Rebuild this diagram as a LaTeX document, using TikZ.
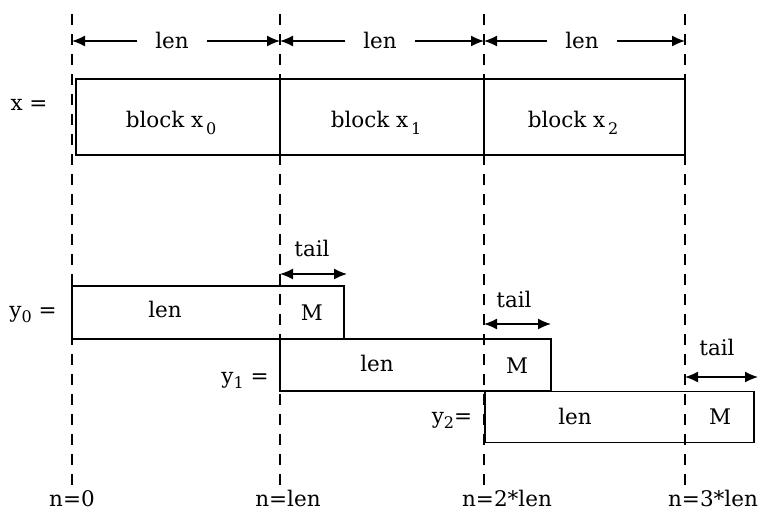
\documentclass[tikz,border=0pt]{standalone}
\usepackage{fontspec}
\setmainfont{DejaVu Serif}
\usetikzlibrary{arrows.meta}
\newcommand{\sbs}[1]{\raisebox{-7pt}{\fontsize{16}{16}\selectfont\,#1}}
\newcommand{\sbl}[1]{\raisebox{-5pt}{\fontsize{16}{16}\selectfont #1}}
\begin{document}
\begin{tikzpicture}[x=1pt,y=-1pt,
 txt/.style={font=\fontsize{21.5}{26}\selectfont, inner sep=0pt, anchor=base},
 guide/.style={line width=1.6pt, dash pattern=on 11pt off 9pt},
 blk/.style={draw, line width=1.5pt, inner sep=0pt},
 dimtip/.style={line width=1.4pt, -{Latex[length=13pt,width=11pt]}},
 dimboth/.style={line width=1.4pt, {Latex[length=13pt,width=11pt]}-{Latex[length=13pt,width=11pt]}},
 dimlabel/.style={font=\fontsize{21.5}{26}\selectfont, inner xsep=18pt, inner ysep=0pt},
]
\useasboundingbox (0,0) rectangle (765,520);

% vertical guides
\foreach \gx/\gn in {72/g0,280/g1,484/g2,685/g3}{
  \coordinate (\gn t) at (\gx,14);
  \coordinate (\gn b) at (\gx,487);
  \draw[guide] (\gn t) -- (\gn b);
}

% top dimension lines
\node[dimlabel] (L0) at (172,40) {len};
\node[dimlabel] (L1) at (380,40) {len};
\node[dimlabel] (L2) at (582,40) {len};
\draw[dimtip] (L0.west |- 0,41) -- (g0t |- 0,41);
\draw[dimtip] (L0.east |- 0,41) -- (g1t |- 0,41);
\draw[dimtip] (L1.west |- 0,41) -- (g1t |- 0,41);
\draw[dimtip] (L1.east |- 0,41) -- (g2t |- 0,41);
\draw[dimtip] (L2.west |- 0,41) -- (g2t |- 0,41);
\draw[dimtip] (L2.east |- 0,41) -- (g3t |- 0,41);

% x blocks
\node[blk, minimum width=204pt, minimum height=76pt] (xb0) at (178,117) {};
\node[blk, minimum width=204pt, minimum height=76pt] (xb1) at (382,117) {};
\node[blk, minimum width=201pt, minimum height=76pt] (xb2) at (584.5,117) {};
\node[txt] (xl) at (29,110) {x =};
\node[txt] (xt0) at (171,127) {block x\sbs{0}};
\node[txt] (xt1) at (376,127) {block x\sbs{1}};
\node[txt] (xt2) at (573,127) {block x\sbs{2}};

% y blocks
\node[blk, minimum width=272pt, minimum height=53pt] (y0box) at (208,312.5) {};
\node[blk, minimum width=271pt, minimum height=52pt] (y1box) at (415.5,365) {};
\node[blk, minimum width=269pt, minimum height=51pt] (y2box) at (619.5,417) {};

\node[txt] (y0l) at (33,317) {y\sbl{0} =};
\node[txt] (y1l) at (245,383) {y\sbl{1} =};
\node[txt] (y2l) at (452,423) {y\sbl{2}=};

\node[txt] (y0len) at (165,317) {len};
\node[txt] (y0M) at (312,320) {M};
\node[txt] (y1len) at (377,371) {len};
\node[txt] (y1M) at (517,373) {M};
\node[txt] (y2len) at (575,424) {len};
\node[txt] (y2M) at (720,424) {M};

% tail dimensions
\coordinate (ta0) at (280,274); \coordinate (tb0) at (347,274);
\coordinate (ta1) at (484,324); \coordinate (tb1) at (551,324);
\coordinate (ta2) at (685,377); \coordinate (tb2) at (758,377);
\draw[dimboth] (ta0) -- (tb0);
\draw[dimboth] (ta1) -- (tb1);
\draw[dimboth] (ta2) -- (tb2);
\node[txt] (tl0) at (312,256) {tail};
\node[txt] (tl1) at (514,307) {tail};
\node[txt] (tl2) at (717,355) {tail};

% bottom labels
\node[txt] (n0) at (72,506) {n=0};
\node[txt] (n1) at (288,506) {n=len};
\node[txt] (n2) at (507,506) {n=2*len};
\node[txt] (n3) at (713,506) {n=3*len};
\end{tikzpicture}
\end{document}
